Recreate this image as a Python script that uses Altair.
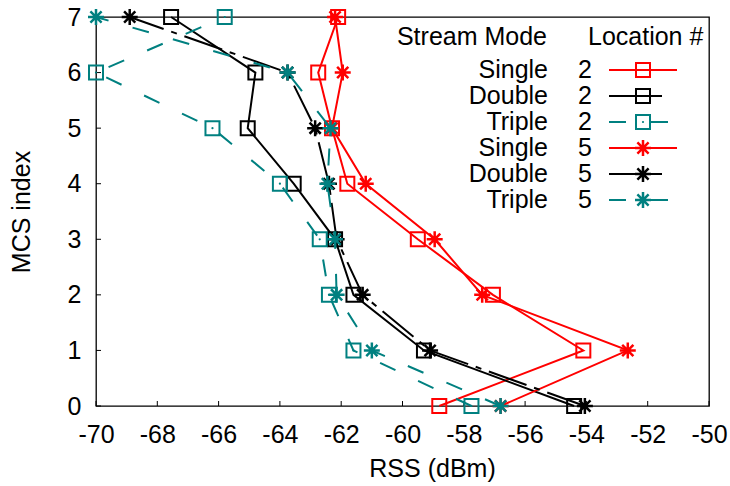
import altair as alt
import pandas as pd

# MCS index chosen at each received signal strength, per stream mode and location
mcs = [0, 1, 2, 3, 4, 5, 6, 7]
single_2 = [-58.8, -54.1, -57.05, -59.5, -61.8, -62.3, -62.75, -62.1]
double_2 = [-54.4, -59.3, -61.6, -62.2, -63.55, -65.05, -64.8, -67.55]
triple_2 = [-57.75, -61.6, -62.4, -62.7, -64.0, -66.2, -70.0, -65.8]
single_5 = [-56.8, -52.65, -57.4, -58.95, -61.2, -62.3, -61.95, -62.2]
double_5 = [-54.05, -59.1, -61.3, -62.15, -62.4, -62.85, -63.75, -68.9]
triple_5 = [-56.8, -61.0, -62.15, -62.2, -62.45, -62.35, -63.75, -70.0]

stream_modes = ["Single", "Double", "Triple", "Single", "Double", "Triple"]
locations = ["2", "2", "2", "5", "5", "5"]
x_ticks = [-70, -68, -66, -64, -62, -60, -58, -56, -54, -52, -50]
y_ticks = [0, 1, 2, 3, 4, 5, 6, 7]

FONT = "Liberation Sans"
RED, BLACK, TEAL = "#ff0000", "#000000", "#008080"
ASTERISK = "M-1,0H1M0,-1V1M-0.7,-0.7L0.7,0.7M-0.7,0.7L0.7,-0.7"

W, H = 613, 389

series = [
    # values, colour, marker, dash, dotted centre, legend line end
    (single_2, RED, "square", None, False, 581),
    (double_2, BLACK, "square", None, False, 566),
    (triple_2, TEAL, "square", [17, 25], True, 574),
    (single_5, RED, ASTERISK, None, False, 581),
    (double_5, BLACK, ASTERISK, [40, 8, 6, 8], False, 566),
    (triple_5, TEAL, ASTERISK, [17, 25], False, 574),
]

x_enc = alt.X(
    "rss:Q",
    scale=alt.Scale(domain=[-70, -50], nice=False, zero=False),
    axis=alt.Axis(
        values=x_ticks, labelExpr="'' + datum.value", ticks=False, tickSize=0,
        domain=False, grid=False,
        labelFont=FONT, labelFontSize=25, labelColor="black", labelPadding=16,
        labelOverlap=False, labelFlush=False, labelBound=False,
        title="RSS (dBm)", titleFont=FONT, titleFontSize=25, titleFontWeight="normal",
        titleColor="black", titleX=336, titleY=62, titleBaseline="middle", titleAlign="center",
    ),
)
y_enc = alt.Y(
    "mcs:Q",
    scale=alt.Scale(domain=[0, 7], nice=False, zero=False),
    axis=alt.Axis(
        values=y_ticks, labelExpr="'' + datum.value", ticks=False, tickSize=0,
        domain=False, grid=False,
        labelFont=FONT, labelFontSize=25, labelColor="black", labelPadding=15,
        labelOverlap=False, labelFlush=False, labelBound=False,
        title="MCS index", titleFont=FONT, titleFontSize=25, titleFontWeight="normal",
        titleColor="black", titleX=-75, titleY=H / 2, titleAngle=270,
        titleBaseline="middle", titleAlign="center",
    ),
)

layers = []

# inward tick marks on the bottom and left edges
layers.append(
    alt.Chart(pd.DataFrame({"rss": x_ticks}))
    .mark_rule(color="black", strokeWidth=1)
    .encode(x=x_enc, y=alt.value(H), y2=alt.value(H - 5))
)
layers.append(
    alt.Chart(pd.DataFrame({"mcs": y_ticks}))
    .mark_rule(color="black", strokeWidth=1)
    .encode(y=y_enc, x=alt.value(0), x2=alt.value(5))
)


def marker(data, shape, color, x=None, y=None):
    """Open square or asterisk symbol (plus centre dot handled separately)."""
    size = 196 if shape == "square" else 256
    width = 2 if shape == "square" else 2.5
    m = alt.Chart(data).mark_point(shape=shape, size=size, filled=False, color=color,
                                   strokeWidth=width, opacity=1)
    if x is None:
        return m.encode(x=x_enc, y=y_enc)
    return m.encode(x=alt.value(x), y=alt.value(y))


def centre_dot(data, color, x=None, y=None):
    d = alt.Chart(data).mark_point(shape="circle", size=5, filled=True, color=color, opacity=1)
    if x is None:
        return d.encode(x=x_enc, y=y_enc)
    return d.encode(x=alt.value(x), y=alt.value(y))


for vals, color, shape, dash, dotted, _ in series:
    df = pd.DataFrame({"rss": vals, "mcs": mcs})
    line_kw = dict(color=color, strokeWidth=2)
    if dash:
        line_kw["strokeDash"] = dash
    layers.append(
        alt.Chart(df).mark_line(**line_kw).encode(x=x_enc, y=y_enc, order="mcs:Q")
    )
    layers.append(marker(df, shape, color))
    if dotted:
        layers.append(centre_dot(df, color))

# key drawn inside the plot, top right
one = pd.DataFrame({"k": [0]})
layers.append(
    alt.Chart(one).mark_text(align="right", baseline="middle", font=FONT,
                             fontSize=25, color="black")
    .encode(x=alt.value(451), y=alt.value(20), text=alt.value("Stream Mode"))
)
layers.append(
    alt.Chart(one).mark_text(align="left", baseline="middle", font=FONT,
                             fontSize=25, color="black")
    .encode(x=alt.value(492), y=alt.value(20), text=alt.value("Location #"))
)

for i, (vals, color, shape, dash, dotted, x_end) in enumerate(series):
    yy = 53 + 26 * i
    layers.append(
        alt.Chart(one).mark_text(align="right", baseline="middle", font=FONT,
                                 fontSize=25, color="black")
        .encode(x=alt.value(452), y=alt.value(yy), text=alt.value(stream_modes[i]))
    )
    layers.append(
        alt.Chart(one).mark_text(align="center", baseline="middle", font=FONT,
                                 fontSize=25, color="black")
        .encode(x=alt.value(489), y=alt.value(yy), text=alt.value(locations[i]))
    )
    rule_kw = dict(color=color, strokeWidth=2)
    if dash and color == TEAL:
        rule_kw["strokeDash"] = dash
    layers.append(
        alt.Chart(one).mark_rule(**rule_kw)
        .encode(x=alt.value(513), x2=alt.value(x_end), y=alt.value(yy))
    )
    layers.append(marker(one, shape, color, 547, yy))
    if dotted:
        layers.append(centre_dot(one, color, 547, yy))

chart = (
    alt.layer(*layers)
    .properties(
        width=W,
        height=H,
        padding={"left": 96, "top": 17, "right": 21, "bottom": 80},
        autosize=alt.AutoSizeParams(type="none"),
        background="white",
    )
    .configure_view(stroke="black", strokeWidth=1.3)
)

chart.save("out.html", embed_options={"renderer": "svg", "actions": False})
